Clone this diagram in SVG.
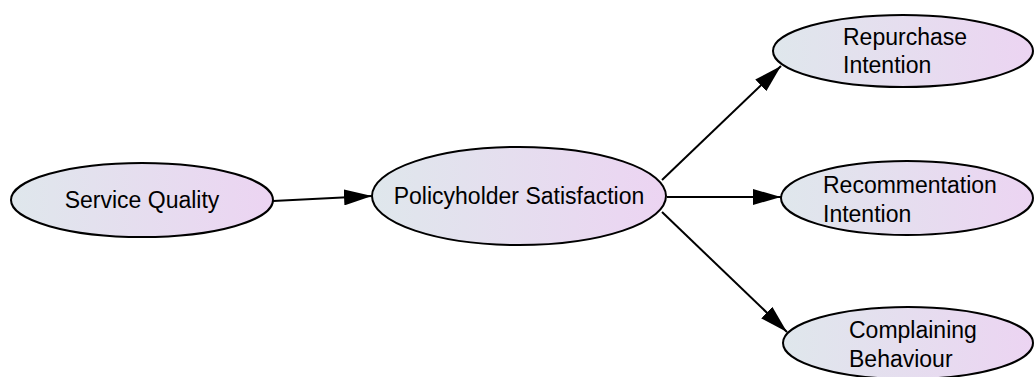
<svg xmlns="http://www.w3.org/2000/svg" width="1034" height="377" viewBox="0 0 1034 377">
  <defs>
    <linearGradient id="g" x1="0" y1="0" x2="1" y2="0">
      <stop offset="0" stop-color="#dfe7ec"/>
      <stop offset="1" stop-color="#ecd4f2"/>
    </linearGradient>
    <marker id="arr" markerUnits="userSpaceOnUse" markerWidth="28" markerHeight="16" refX="28" refY="8" orient="auto">
      <path d="M0,0 L28,8 L0,16 Z" fill="#000"/>
    </marker>
  </defs>
  <style>
    .node ellipse { fill: url(#g); stroke: #000; stroke-width: 2; }
    .node text { font-family: "Liberation Sans", Arial, sans-serif; font-size: 23px; fill: #000; }
    .edges line { stroke: #000; stroke-width: 2; marker-end: url(#arr); }
  </style>
  <rect width="1034" height="377" fill="#fff"/>
  <g class="edges">
    <line x1="273" y1="201" x2="372" y2="196"/>
    <line x1="662" y1="180" x2="781" y2="66"/>
    <line x1="667" y1="197" x2="781" y2="197"/>
    <line x1="662" y1="212" x2="787" y2="332"/>
  </g>
  <g id="service-quality" class="node">
    <ellipse cx="142" cy="200" rx="131" ry="37"/>
    <text x="142" y="208" text-anchor="middle">Service Quality</text>
  </g>
  <g id="policyholder-satisfaction" class="node">
    <ellipse cx="519" cy="196" rx="147" ry="49"/>
    <text x="519" y="204" text-anchor="middle">Policyholder Satisfaction</text>
  </g>
  <g id="repurchase-intention" class="node">
    <ellipse cx="903" cy="51" rx="130" ry="36"/>
    <text x="843" y="45">Repurchase</text>
    <text x="843" y="73">Intention</text>
  </g>
  <g id="recommentation-intention" class="node">
    <ellipse cx="907" cy="198" rx="126" ry="37"/>
    <text x="823" y="193">Recommentation</text>
    <text x="823" y="222">Intention</text>
  </g>
  <g id="complaining-behaviour" class="node">
    <ellipse cx="908" cy="343" rx="125" ry="36"/>
    <text x="849" y="338">Complaining</text>
    <text x="849" y="367">Behaviour</text>
  </g>
</svg>
